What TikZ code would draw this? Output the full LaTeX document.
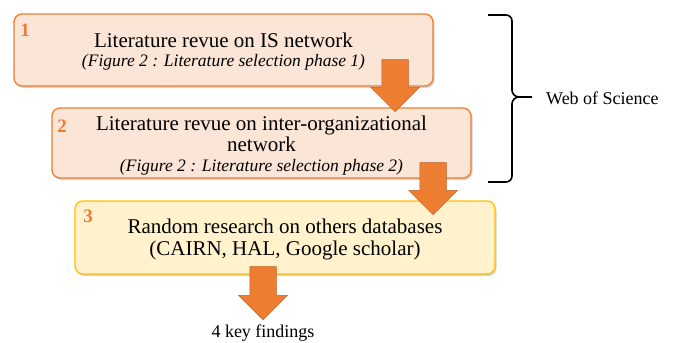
\documentclass[tikz,border=0pt]{standalone}
\usepackage{fontspec}
\setmainfont{Liberation Serif}
\usetikzlibrary{shapes.arrows,shadows}
\definecolor{orng}{HTML}{ED7D31}
\definecolor{orngdark}{HTML}{C0612A}
\definecolor{peach}{HTML}{FBE5D6}
\definecolor{cream}{HTML}{FFF2CC}
\definecolor{gold}{HTML}{FFC000}
\begin{document}
\begin{tikzpicture}[x=1pt,y=-1pt,
  box/.style={draw=orng, line width=1.3pt, rounded corners=8pt, fill=peach,
    drop shadow={shadow xshift=1.5pt,shadow yshift=-2pt,opacity=0.35},
    inner sep=0pt, minimum width=419pt},
  ybox/.style={box, draw=gold, fill=cream},
  main/.style={font=\fontsize{21}{22}\selectfont, inner sep=0pt, anchor=base},
  fig/.style={font=\fontsize{17.5}{18}\selectfont\itshape, inner sep=0pt, anchor=base},
  num/.style={text=orng, font=\fontsize{19}{19}\selectfont\bfseries, inner sep=0pt},
  blockarrow/.style={single arrow, shape border rotate=270, fill=orng, draw=orngdark,
    line width=0.5pt, minimum width=48pt, single arrow head extend=11pt,
    inner sep=0pt, text width=26pt, single arrow tip angle=90, anchor=tip},
  lbl/.style={font=\fontsize{18}{20}\selectfont, inner sep=0pt}
]
\useasboundingbox (0,0) rectangle (673,343);

\node[box, minimum height=72pt] (b1) at (223.5,50) {};
\node[main] (b1l1) at (223.5,47) {Literature revue on IS network};
\node[fig] (b1l2) at (223.5,66) {(Figure 2 : Literature selection phase 1)};
\node[num] (n1) at (25,30) {1};

\node[box, minimum height=70pt] (b2) at (261.5,143) {};
\node[main] (b2l1) at (261.5,130) {Literature revue on inter-organizational};
\node[main] (b2l2) at (261.5,151) {network};
\node[fig] (b2l3) at (261.5,171) {(Figure 2 : Literature selection phase 2)};
\node[num] (n2) at (62,126) {2};

\node[ybox, minimum width=420pt, minimum height=73pt] (b3) at (285,237.5) {};
\node[main] (b3l1) at (285,233) {Random research on others databases};
\node[main] (b3l2) at (285,255.5) {(CAIRN, HAL, Google scholar)};
\node[num] (n3) at (88,216) {3};

\coordinate (t1) at (395,112);
\coordinate (t2) at (433,215);
\coordinate (t3) at (263,320);
\node[blockarrow, minimum height=52pt] (a1) at (t1) {};
\node[blockarrow, minimum height=52pt] (a2) at (t2) {};
\node[blockarrow, minimum height=53pt] (a3) at (t3) {};

\node[lbl] (kf) at (263,333) {4 key findings};

\coordinate (bt) at (488,15);
\coordinate (bb) at (488,182);
\coordinate (tip) at (532,97);
\draw[line width=1.6pt] (bt) -- (506,15) to[out=0,in=90] (512,21) -- (512,90)
  to[out=-90,in=180] (519,97) -- (tip);
\draw[line width=1.6pt] (bb) -- (506,182) to[out=0,in=-90] (512,176) -- (512,104)
  to[out=90,in=180] (519,97);
\node[lbl, anchor=west] (wos) at (546,98) {Web of Science};
\end{tikzpicture}
\end{document}
